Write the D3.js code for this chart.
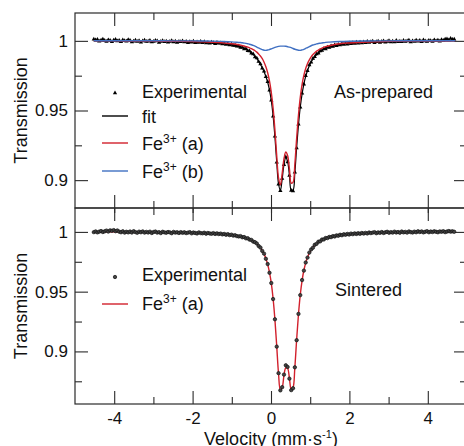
<!DOCTYPE html>
<html>
<head>
<meta charset="utf-8">
<script src="https://cdn.jsdelivr.net/npm/d3@7"></script>
<style>
  html, body { margin: 0; padding: 0; background: #fff; }
  svg { display: block; font-family: "Liberation Sans", Arial, sans-serif; }
</style>
</head>
<body>
<svg id="chart" width="464" height="446"></svg>
<script>
(function () {
  'use strict';

  // ── Channel velocities: first channel and step (mm/s) ─────────────────────
  const V0 = -4.52;
  const DV = 0.0462;

  // ── As-prepared: experimental transmission, one value per channel ─────────
  const topExp = [
    1.0012, 1.0006, 1.0009, 0.9998, 1.0004, 1.0011, 1.0002, 0.9996, 1.0007, 1.0003,
    0.9994, 1.0005, 1.0010, 0.9999, 1.0002, 0.9993, 1.0006, 1.0001, 0.9997, 1.0008,
    1.0003, 0.9992, 0.9998, 1.0005, 0.9996, 1.0001, 0.9990, 0.9999, 1.0004, 0.9995,
    0.9997, 1.0003, 0.9991, 0.9996, 1.0002, 0.9999, 0.9989, 0.9995, 1.0001, 0.9994,
    0.9998, 0.9990, 0.9995, 1.0001, 0.9992, 0.9997, 0.9988, 0.9996, 0.9993, 0.9999,
    0.9991, 0.9996, 0.9987, 0.9994, 0.9990, 0.9997, 0.9986, 0.9992, 0.9989, 0.9995,
    0.9986, 0.9993, 0.9984, 0.9989, 0.9982, 0.9990, 0.9986, 0.9980, 0.9988, 0.9983,
    0.9985, 0.9977, 0.9983, 0.9974, 0.9979, 0.9970, 0.9975, 0.9966, 0.9969, 0.9961,
    0.9963, 0.9952, 0.9954, 0.9941, 0.9943, 0.9929, 0.9927, 0.9911, 0.9905, 0.9884,
    0.9876, 0.9851, 0.9834, 0.9803, 0.9781, 0.9742, 0.9706, 0.9646, 0.9573, 0.9459,
    0.9315, 0.9128, 0.8971, 0.8924, 0.9012, 0.9110, 0.9166, 0.9131, 0.9033, 0.8925,
    0.8922, 0.9057, 0.9230, 0.9401, 0.9523, 0.9624, 0.9688, 0.9749, 0.9785, 0.9826,
    0.9846, 0.9874, 0.9885, 0.9905, 0.9911, 0.9927, 0.9930, 0.9943, 0.9942, 0.9955,
    0.9952, 0.9963, 0.9960, 0.9970, 0.9965, 0.9974, 0.9971, 0.9979, 0.9974, 0.9983,
    0.9976, 0.9985, 0.9979, 0.9987, 0.9981, 0.9990, 0.9983, 0.9991, 0.9985, 0.9992,
    0.9986, 0.9995, 0.9988, 0.9994, 0.9997, 0.9987, 0.9993, 0.9998, 0.9989, 0.9996,
    0.9999, 0.9990, 0.9995, 1.0001, 0.9992, 0.9997, 0.9991, 1.0002, 0.9994, 0.9998,
    0.9993, 1.0003, 0.9996, 0.9999, 1.0004, 0.9992, 1.0000, 0.9995, 1.0005, 0.9998,
    1.0002, 0.9994, 1.0006, 0.9999, 0.9995, 1.0003, 1.0001, 0.9996, 1.0007, 1.0000,
    1.0004, 0.9997, 1.0008, 1.0002, 1.0011, 1.0014, 1.0006, 1.0017, 1.0009, 1.0012
  ];

  // ── Sintered: experimental transmission ───────────────────────────────────
  const botExp = [
    0.9998, 1.0004, 0.9996, 1.0002, 1.0007, 0.9999, 1.0005, 1.0011, 1.0003, 1.0013,
    1.0009, 1.0015, 1.0006, 1.0012, 1.0002, 0.9997, 1.0005, 0.9994, 1.0001, 0.9996,
    1.0003, 0.9995, 1.0006, 0.9998, 0.9993, 1.0002, 0.9997, 1.0004, 0.9994, 1.0000,
    0.9995, 1.0002, 0.9991, 0.9999, 1.0003, 0.9994, 0.9998, 0.9990, 1.0001, 0.9996,
    0.9993, 0.9999, 0.9996, 0.9989, 1.0000, 0.9994, 0.9997, 0.9991, 0.9998, 0.9992,
    0.9997, 0.9990, 0.9994, 0.9998, 0.9988, 0.9995, 0.9991, 0.9987, 0.9996, 0.9990,
    0.9988, 0.9993, 0.9985, 0.9991, 0.9987, 0.9984, 0.9990, 0.9983, 0.9988, 0.9982,
    0.9986, 0.9979, 0.9983, 0.9976, 0.9981, 0.9973, 0.9977, 0.9969, 0.9972, 0.9965,
    0.9962, 0.9965, 0.9955, 0.9957, 0.9946, 0.9947, 0.9935, 0.9933, 0.9919, 0.9914,
    0.9903, 0.9882, 0.9869, 0.9841, 0.9818, 0.9775, 0.9731, 0.9658, 0.9572, 0.9438,
    0.9269, 0.9040, 0.8818, 0.8674, 0.8701, 0.8806, 0.8884, 0.8870, 0.8772, 0.8676,
    0.8692, 0.8867, 0.9094, 0.9314, 0.9471, 0.9597, 0.9676, 0.9744, 0.9785, 0.9827,
    0.9853, 0.9868, 0.9892, 0.9900, 0.9918, 0.9921, 0.9936, 0.9937, 0.9949, 0.9948,
    0.9958, 0.9956, 0.9965, 0.9962, 0.9971, 0.9968, 0.9976, 0.9972, 0.9980, 0.9976,
    0.9983, 0.9978, 0.9986, 0.9981, 0.9988, 0.9983, 0.9989, 0.9984, 0.9991, 0.9986,
    0.9992, 0.9987, 0.9995, 0.9990, 0.9994, 0.9998, 0.9989, 0.9996, 0.9992, 0.9999,
    0.9991, 0.9997, 1.0001, 0.9993, 0.9998, 0.9994, 1.0002, 0.9995, 0.9999, 0.9993,
    1.0003, 0.9996, 1.0000, 0.9994, 1.0004, 0.9998, 0.9995, 1.0002, 0.9997, 1.0005,
    0.9999, 1.0004, 0.9996, 1.0001, 1.0006, 0.9997, 1.0003, 0.9999, 1.0005, 1.0001,
    0.9997, 1.0004, 1.0001, 1.0006, 0.9998, 1.0003, 1.0007, 1.0002, 1.0005, 1.0001
  ];

  // ── Fitted curves, sampled at these velocities ────────────────────────────
  const fitV = [
    -4.52, -4.0, -3.5, -3.0, -2.5, -2.0, -1.75, -1.5, -1.25, -1.0,
    -0.824, -0.778, -0.732, -0.685, -0.639, -0.593, -0.547, -0.501, -0.454, -0.408,
    -0.362, -0.316, -0.270, -0.223, -0.177, -0.131, -0.085, -0.039, 0.008, 0.054,
    0.100, 0.146, 0.192, 0.239, 0.285, 0.331, 0.377, 0.423, 0.470, 0.516,
    0.562, 0.608, 0.654, 0.701, 0.747, 0.793, 0.839, 0.885, 0.932, 0.978,
    1.024, 1.070, 1.116, 1.163, 1.209, 1.255, 1.301, 1.394, 1.486, 1.75,
    2.0, 2.5, 3.0, 3.5, 4.0, 4.5, 4.7
  ];

  const topFit = [
    1.0000, 0.9999, 0.9998, 0.9997, 0.9995, 0.9992, 0.9990, 0.9986, 0.9980, 0.9970,
    0.9959, 0.9955, 0.9951, 0.9945, 0.9939, 0.9932, 0.9924, 0.9914, 0.9902, 0.9888,
    0.9872, 0.9853, 0.9831, 0.9807, 0.9778, 0.9744, 0.9703, 0.9648, 0.9570, 0.9461,
    0.9311, 0.9130, 0.8974, 0.8926, 0.9007, 0.9112, 0.9161, 0.9133, 0.9035, 0.8927,
    0.8927, 0.9052, 0.9232, 0.9397, 0.9525, 0.9620, 0.9690, 0.9745, 0.9787, 0.9821,
    0.9848, 0.9869, 0.9887, 0.9901, 0.9913, 0.9923, 0.9932, 0.9945, 0.9955, 0.9972,
    0.9981, 0.9990, 0.9994, 0.9996, 0.9998, 0.9999, 0.9999
  ];

  const topFeA = [
    1.0000, 1.0000, 0.9999, 0.9998, 0.9997, 0.9995, 0.9993, 0.9990, 0.9986, 0.9979,
    0.9972, 0.9969, 0.9966, 0.9963, 0.9959, 0.9955, 0.9950, 0.9944, 0.9937, 0.9929,
    0.9919, 0.9906, 0.9891, 0.9872, 0.9847, 0.9814, 0.9771, 0.9712, 0.9629, 0.9515,
    0.9360, 0.9175, 0.9016, 0.8966, 0.9047, 0.9152, 0.9202, 0.9177, 0.9082, 0.8979,
    0.8984, 0.9114, 0.9299, 0.9467, 0.9595, 0.9687, 0.9753, 0.9801, 0.9837, 0.9864,
    0.9885, 0.9902, 0.9915, 0.9926, 0.9934, 0.9942, 0.9948, 0.9958, 0.9965, 0.9979,
    0.9985, 0.9992, 0.9996, 0.9998, 0.9999, 0.9999, 1.0000
  ];

  const topFeB = [
    1.0001, 1.0001, 1.0001, 1.0001, 1.0000, 1.0000, 0.9999, 0.9998, 0.9996, 0.9993,
    0.9989, 0.9988, 0.9986, 0.9984, 0.9982, 0.9979, 0.9976, 0.9972, 0.9967, 0.9962,
    0.9955, 0.9949, 0.9942, 0.9937, 0.9933, 0.9932, 0.9934, 0.9938, 0.9943, 0.9948,
    0.9953, 0.9957, 0.9960, 0.9962, 0.9962, 0.9962, 0.9961, 0.9958, 0.9955, 0.9951,
    0.9945, 0.9940, 0.9936, 0.9933, 0.9932, 0.9935, 0.9939, 0.9946, 0.9952, 0.9959,
    0.9965, 0.9970, 0.9974, 0.9978, 0.9981, 0.9983, 0.9985, 0.9989, 0.9991, 0.9995,
    0.9997, 0.9999, 1.0000, 1.0001, 1.0001, 1.0001, 1.0001
  ];

  const botFeA = [
    1.0001, 1.0000, 0.9999, 0.9998, 0.9996, 0.9993, 0.9991, 0.9987, 0.9982, 0.9974,
    0.9965, 0.9962, 0.9958, 0.9954, 0.9950, 0.9944, 0.9938, 0.9931, 0.9922, 0.9912,
    0.9900, 0.9885, 0.9867, 0.9844, 0.9816, 0.9778, 0.9728, 0.9661, 0.9569, 0.9441,
    0.9266, 0.9044, 0.8815, 0.8678, 0.8697, 0.8800, 0.8862, 0.8858, 0.8776, 0.8680,
    0.8696, 0.8864, 0.9098, 0.9311, 0.9474, 0.9593, 0.9679, 0.9741, 0.9788, 0.9823,
    0.9850, 0.9872, 0.9889, 0.9903, 0.9915, 0.9924, 0.9933, 0.9946, 0.9955, 0.9972,
    0.9981, 0.9991, 0.9995, 0.9997, 0.9999, 1.0000, 1.0000
  ];

  // ── Axis ticks ────────────────────────────────────────────────────────────
  const xMajor = [-4, -2, 0, 2, 4];
  const xMinor = [-3, -1, 1, 3];
  const yMajor = [0.9, 0.95, 1];
  const yMinorTop = [0.925, 0.975];
  const yMinorBot = [0.875, 0.925, 0.975];

  const RED = '#d2202c';
  const BLUE = '#4070c2';
  const FRAME = '#2a2a2a';

  const svg = d3.select('#chart');

  const left = 75, right = 467;
  const x = d3.scaleLinear().domain([-5, 5]).range([left, right]);
  const yTop = d3.scaleLinear().domain([0.88, 1.02]).range([208, 13]);
  const yBot = d3.scaleLinear().domain([0.856, 1.02]).range([404, 208]);

  const fitLine = (y) => d3.line()
    .x((d, i) => x(fitV[i]))
    .y(d => y(d))
    .curve(d3.curveCatmullRom.alpha(0.5));

  function styleAxis(ax, fontSize) {
    ax.select('.domain').remove();
    ax.selectAll('.tick line').attr('stroke', FRAME).attr('stroke-width', 1.1);
    ax.selectAll('.tick text')
      .attr('fill', '#111')
      .attr('font-size', fontSize)
      .attr('font-family', '"Liberation Sans", Arial, sans-serif');
  }

  function drawPanel(y, top, bottom, yMinor, withXLabels) {
    const g = svg.append('g');

    // left / right ticks
    g.append('g').attr('transform', `translate(${left},0)`)
      .call(d3.axisLeft(y).tickValues(yMajor).tickSize(-13).tickPadding(7).tickFormat(d => String(d)))
      .call(ax => styleAxis(ax, 17));
    g.append('g').attr('transform', `translate(${left},0)`)
      .call(d3.axisLeft(y).tickValues(yMinor).tickSize(-7).tickFormat(''))
      .call(ax => styleAxis(ax, 17));
    g.append('g').attr('transform', `translate(${right},0)`)
      .call(d3.axisRight(y).tickValues(yMajor).tickSize(-13).tickFormat(''))
      .call(ax => styleAxis(ax, 17));
    g.append('g').attr('transform', `translate(${right},0)`)
      .call(d3.axisRight(y).tickValues(yMinor).tickSize(-7).tickFormat(''))
      .call(ax => styleAxis(ax, 17));

    // top / bottom ticks
    g.append('g').attr('transform', `translate(0,${top})`)
      .call(d3.axisTop(x).tickValues(xMajor).tickSize(-13).tickFormat(''))
      .call(ax => styleAxis(ax, 17));
    g.append('g').attr('transform', `translate(0,${top})`)
      .call(d3.axisTop(x).tickValues(xMinor).tickSize(-7).tickFormat(''))
      .call(ax => styleAxis(ax, 17));
    g.append('g').attr('transform', `translate(0,${bottom})`)
      .call(d3.axisBottom(x).tickValues(xMajor).tickSize(-13).tickPadding(8)
        .tickFormat(withXLabels ? (d => String(d)) : ''))
      .call(ax => styleAxis(ax, 17));
    g.append('g').attr('transform', `translate(0,${bottom})`)
      .call(d3.axisBottom(x).tickValues(xMinor).tickSize(-7).tickFormat(''))
      .call(ax => styleAxis(ax, 17));

    // frame
    g.append('rect')
      .attr('x', left).attr('y', top)
      .attr('width', right - left).attr('height', bottom - top)
      .attr('fill', 'none').attr('stroke', FRAME).attr('stroke-width', 1.2);

    // y title
    g.append('text')
      .attr('transform', `translate(27,${(top + bottom) / 2}) rotate(-90)`)
      .attr('text-anchor', 'middle')
      .attr('font-size', 18)
      .attr('fill', '#111')
      .text('Transmission');

    return g;
  }

  // ── Top panel: As-prepared ────────────────────────────────────────────────
  const gTop = drawPanel(yTop, 13, 208, yMinorTop, false);

  const tri = d3.symbol(d3.symbolTriangle, 8);
  gTop.append('g').selectAll('path')
    .data(topExp)
    .join('path')
    .attr('d', tri)
    .attr('transform', (d, i) => `translate(${x(V0 + i * DV)},${yTop(d)})`)
    .attr('fill', '#000');

  gTop.append('path').datum(topFit)
    .attr('d', fitLine(yTop)).attr('fill', 'none')
    .attr('stroke', '#000').attr('stroke-width', 1.2);
  gTop.append('path').datum(topFeA)
    .attr('d', fitLine(yTop)).attr('fill', 'none')
    .attr('stroke', RED).attr('stroke-width', 1.4);
  gTop.append('path').datum(topFeB)
    .attr('d', fitLine(yTop)).attr('fill', 'none')
    .attr('stroke', BLUE).attr('stroke-width', 1.4);

  // ── Bottom panel: Sintered ────────────────────────────────────────────────
  const gBot = drawPanel(yBot, 208, 404, yMinorBot, true);

  gBot.append('path').datum(botFeA)
    .attr('d', fitLine(yBot)).attr('fill', 'none')
    .attr('stroke', RED).attr('stroke-width', 1.4);

  gBot.append('g').selectAll('circle')
    .data(botExp)
    .join('circle')
    .attr('cx', (d, i) => x(V0 + i * DV))
    .attr('cy', d => yBot(d))
    .attr('r', 1.7)
    .attr('fill', '#444')
    .attr('stroke', '#111')
    .attr('stroke-width', 0.7);

  // divider ticks crossing the shared edge
  svg.append('g').attr('transform', 'translate(0,208)')
    .call(d3.axisBottom(x).tickValues(xMajor).tickSize(5).tickFormat(''))
    .call(ax => styleAxis(ax, 17));

  // ── Legends ───────────────────────────────────────────────────────────────
  function legendText(g, tx, ty, base, sup, tail) {
    const t = g.append('text').attr('x', tx).attr('y', ty)
      .attr('font-size', 18).attr('fill', '#111');
    t.append('tspan').text(base);
    if (sup) {
      t.append('tspan').attr('dy', -7).attr('font-size', 12).text(sup);
      t.append('tspan').attr('dy', 7).text(tail);
    }
    return t;
  }
  function legendLine(g, yy, color) {
    g.append('line').attr('x1', 102).attr('x2', 128).attr('y1', yy).attr('y2', yy)
      .attr('stroke', color).attr('stroke-width', 1.4);
  }

  const lt = svg.append('g');
  lt.append('path').attr('d', d3.symbol(d3.symbolTriangle, 8))
    .attr('transform', 'translate(115,93)').attr('fill', '#000');
  legendText(lt, 142, 98, 'Experimental');
  legendLine(lt, 116, '#000');
  legendText(lt, 142, 123, 'fit');
  legendLine(lt, 143, RED);
  legendText(lt, 142, 150, 'Fe', '3+', ' (a)');
  legendLine(lt, 171, BLUE);
  legendText(lt, 142, 178, 'Fe', '3+', ' (b)');
  legendText(lt, 334, 98, 'As-prepared');

  const lb = svg.append('g');
  lb.append('circle').attr('cx', 115).attr('cy', 277).attr('r', 1.7)
    .attr('fill', '#444').attr('stroke', '#111').attr('stroke-width', 0.7);
  legendText(lb, 142, 281, 'Experimental');
  legendLine(lb, 304, RED);
  legendText(lb, 142, 310, 'Fe', '3+', ' (a)');
  legendText(lb, 335, 296, 'Sintered');

  // ── x title ───────────────────────────────────────────────────────────────
  const xt = svg.append('text')
    .attr('x', x(0)).attr('y', 445)
    .attr('text-anchor', 'middle')
    .attr('font-size', 18).attr('fill', '#111');
  xt.append('tspan').text('Velocity (mm\u00b7s');
  xt.append('tspan').attr('dy', -7).attr('font-size', 11).text('-1');
  xt.append('tspan').attr('dy', 7).text(')');
})();
</script>
</body>
</html>
